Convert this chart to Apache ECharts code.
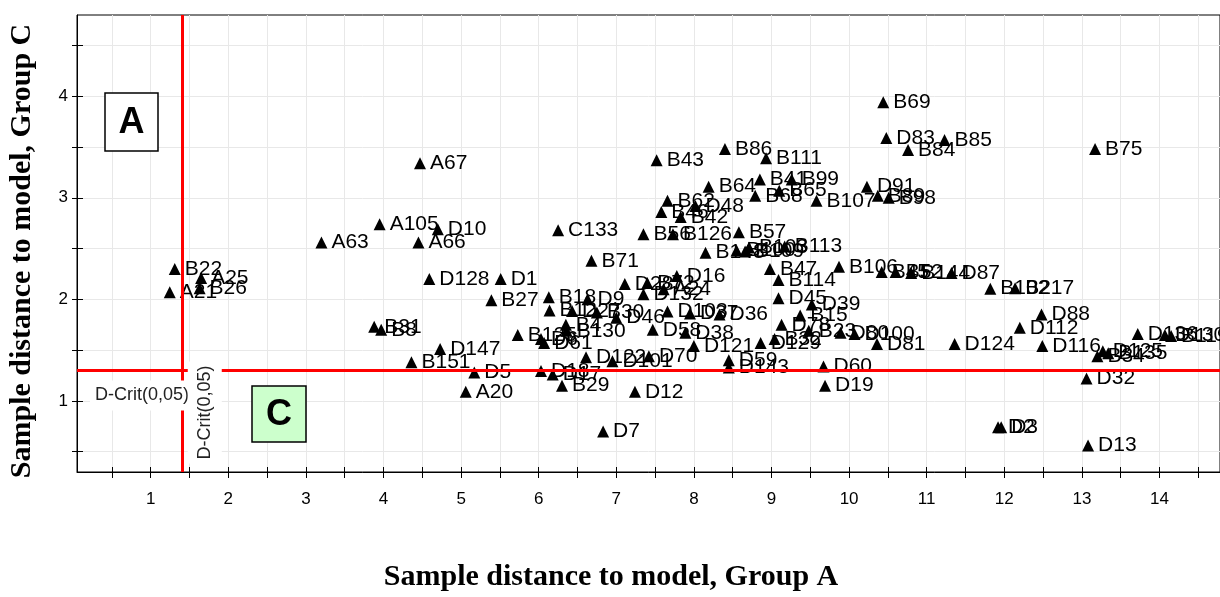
<!DOCTYPE html>
<html>
<head>
<meta charset="utf-8">
<script src="https://cdn.jsdelivr.net/npm/echarts@6/dist/echarts.min.js"></script>
<style>
html, body { margin: 0; padding: 0; background: #fff; }
#chart { width: 1220px; height: 597px; }
</style>
</head>
<body>
<div id="chart"></div>
<script>

// sample names and distances
var names = ['B69', 'D83', 'B85', 'B84', 'B75', 'B86', 'B43', 'A67', 'B111', 'B64',
    'B41', 'B99', 'B68', 'B65', 'B107', 'D91', 'B89', 'B98', 'B62', 'D48',
    'B46', 'B42', 'C133', 'A105', 'D10', 'A63', 'A66', 'B56', 'B126', 'B57',
    'B148', 'B100', 'B109', 'B103', 'B113', 'B71', 'D128', 'D1', 'B22', 'A25',
    'A21', 'B26', 'B47', 'B106', 'B114', 'B45', 'B52', 'B144', 'D87', 'B102',
    'B217', 'D88', 'D112', 'D124', 'D116', 'B34', 'D125', 'B135', 'D136', 'D130',
    'B119', 'B27', 'B31', 'B8', 'B18', 'D9', 'B12', 'D27', 'B30', 'D46',
    'B125', 'D6', 'D61', 'B4', 'B130', 'D147', 'B151', 'D5', 'A20', 'D18',
    'D17', 'B29', 'D12', 'D7', 'D122', 'D101', 'D70', 'D121', 'D59', 'D143',
    'D60', 'D19', 'D32', 'D2', 'D3', 'D13', 'D45', 'D39', 'B15', 'D103',
    'D37', 'D36', 'D58', 'D38', 'D78', 'B23', 'D80', 'D100', 'D81', 'D129',
    'B32', 'D28', 'B72', 'A24', 'D132', 'D16'];

var groupA = [10.44, 10.48, 11.23, 10.76, 13.17, 8.40, 7.52, 4.47, 8.93, 8.19,
    8.85, 9.26, 8.79, 9.10, 9.58, 10.23, 10.37, 10.51, 7.66, 8.02,
    7.58, 7.83, 6.25, 3.95, 4.70, 3.20, 4.45, 7.35, 7.73, 8.58,
    8.15, 8.55, 8.66, 8.71, 9.17, 6.68, 4.59, 5.51, 1.31, 1.65,
    1.245, 1.63, 8.98, 9.87, 9.09, 10.42, 10.60, 10.80, 11.32, 11.82,
    12.14, 12.48, 12.20, 11.36, 12.49, 13.20, 13.27, 13.34, 13.72, 14.07,
    14.15, 5.39, 3.88, 3.97, 6.13, 6.63, 6.14, 6.43, 6.75, 7.00,
    5.73, 6.03, 6.07, 6.35, 6.36, 4.73, 4.36, 5.17, 5.06, 6.03,
    6.18, 6.30, 7.24, 6.83, 6.61, 6.95, 7.42, 8.00, 8.45, 8.45,
    9.67, 9.69, 13.06, 11.92, 11.96, 13.08, 9.09, 9.52, 9.37, 7.66,
    7.95, 8.33, 7.47, 7.89, 9.13, 9.48, 9.89, 10.07, 10.36, 8.86,
    9.04, 7.11, 7.40, 7.61, 7.35, 7.78];

var groupC = [3.94, 3.59, 3.57, 3.47, 3.48, 3.48, 3.37, 3.34, 3.39, 3.11,
    3.18, 3.18, 3.02, 3.07, 2.97, 3.11, 3.02, 3.00, 2.97, 2.92,
    2.86, 2.81, 2.68, 2.74, 2.69, 2.56, 2.56, 2.64, 2.64, 2.66,
    2.46, 2.48, 2.47, 2.51, 2.52, 2.38, 2.20, 2.20, 2.30, 2.21,
    2.07, 2.11, 2.30, 2.32, 2.19, 2.27, 2.27, 2.26, 2.26, 2.105,
    2.11, 1.85, 1.72, 1.56, 1.54, 1.44, 1.49, 1.47, 1.66, 1.65,
    1.64, 1.99, 1.73, 1.70, 2.02, 2.00, 1.89, 1.885, 1.87, 1.82,
    1.65, 1.61, 1.57, 1.75, 1.69, 1.51, 1.38, 1.28, 1.09, 1.295,
    1.26, 1.15, 1.09, 0.70, 1.43, 1.39, 1.44, 1.54, 1.40, 1.33,
    1.34, 1.15, 1.22, 0.74, 0.74, 0.56, 2.01, 1.95, 1.84, 1.88,
    1.86, 1.85, 1.70, 1.67, 1.75, 1.69, 1.67, 1.66, 1.56, 1.57,
    1.61, 2.15, 2.16, 2.10, 2.05, 2.23];

var xTicks = [0.5, 1, 1.5, 2, 2.5, 3, 3.5, 4, 4.5, 5, 5.5, 6, 6.5, 7, 7.5,
    8, 8.5, 9, 9.5, 10, 10.5, 11, 11.5, 12, 12.5, 13, 13.5, 14, 14.5];
var xLabels = [1, 2, 3, 4, 5, 6, 7, 8, 9, 10, 11, 12, 13, 14];
var yTicks = [0.5, 1, 1.5, 2, 2.5, 3, 3.5, 4, 4.5];
var yLabels = [1, 2, 3, 4];

// critical distances
var critA = 1.4;
var critC = 1.3;

var chart = echarts.init(document.getElementById('chart'));

var points = [];
for (var i = 0; i < names.length; i++) {
    points.push([groupA[i], groupC[i], names[i]]);
}

var xMin = 0.05, xMax = 14.78, yMin = 0.3, yMax = 4.8;

var option = {
    animation: false,
    grid: [
        { left: 77, top: 15, right: -2, bottom: 125, show: true, borderColor: '#000', borderWidth: 1 },
        { left: 77, top: 15, right: -2, bottom: 125 }
    ],
    xAxis: [{
        type: 'value', gridIndex: 0, min: xMin, max: xMax,
        axisLine: { onZero: false, lineStyle: { color: '#000', width: 1 } },
        axisTick: { customValues: xTicks, length: 6, lineStyle: { color: '#000' } },
        axisLabel: { customValues: xLabels, margin: 19, fontSize: 17, color: '#000', fontFamily: 'Liberation Sans' },
        splitLine: { show: true, lineStyle: { color: '#e8e8e8', width: 1 } }
    }, {
        type: 'value', gridIndex: 1, min: xMin, max: xMax,
        axisLine: { show: false, onZero: false },
        axisTick: { customValues: xTicks, inside: true, length: 5, lineStyle: { color: '#000' } },
        axisLabel: { show: false },
        splitLine: { show: false }
    }],
    yAxis: [{
        type: 'value', gridIndex: 0, min: yMin, max: yMax,
        axisLine: { show: true, onZero: false, lineStyle: { color: '#000', width: 1 } },
        axisTick: { show: true, customValues: yTicks, length: 5, lineStyle: { color: '#000' } },
        axisLabel: { customValues: yLabels, margin: 9, fontSize: 17, color: '#000', fontFamily: 'Liberation Sans' },
        splitLine: { show: true, lineStyle: { color: '#e8e8e8', width: 1 } }
    }, {
        type: 'value', gridIndex: 1, min: yMin, max: yMax,
        axisLine: { show: false, onZero: false },
        axisTick: { show: true, customValues: yTicks, inside: true, length: 6, lineStyle: { color: '#000' } },
        axisLabel: { show: false },
        splitLine: { show: false }
    }],
    series: [{
        type: 'scatter',
        xAxisIndex: 0,
        yAxisIndex: 0,
        symbol: 'triangle',
        symbolSize: 12,
        itemStyle: { color: '#000', opacity: 1 },
        label: {
            show: true,
            position: 'right',
            distance: 4,
            formatter: function (p) { return p.data[2]; },
            fontSize: 21,
            fontFamily: 'Liberation Sans',
            color: '#000'
        },
        data: points,
        markLine: {
            silent: true,
            symbol: 'none',
            label: { show: false },
            lineStyle: { color: '#ff0000', width: 3, type: 'solid', opacity: 1 },
            data: [{ xAxis: critA }, { yAxis: critC }]
        },
        z: 3
    }]
};

chart.setOption(option);

var cp = chart.convertToPixel({ gridIndex: 0 }, [critA, critC]);

chart.setOption({
    graphic: [
        // box A
        { type: 'rect', z: 50, shape: { x: 105, y: 93, width: 53, height: 58 },
          style: { fill: '#fff', stroke: '#000', lineWidth: 1.5 } },
        { type: 'text', z: 51, x: 131.5, y: 123,
          style: { text: 'A', font: 'bold 36px "Liberation Sans"', fill: '#000', align: 'center', verticalAlign: 'middle' } },
        // box C
        { type: 'rect', z: 50, shape: { x: 252, y: 386, width: 54, height: 56 },
          style: { fill: '#ccffcc', stroke: '#000', lineWidth: 1.5 } },
        { type: 'text', z: 51, x: 279, y: 415,
          style: { text: 'C', font: 'bold 36px "Liberation Sans"', fill: '#000', align: 'center', verticalAlign: 'middle' } },
        // critical line labels
        { type: 'text', z: 60, x: 90, y: cp[1] + 25,
          style: { text: 'D-Crit(0,05)', font: '18px "Liberation Sans"', fill: '#222', align: 'left', verticalAlign: 'middle',
                   backgroundColor: '#fff', padding: [6, 4, 6, 5] } },
        { type: 'text', z: 60, x: cp[0] + 23, y: cp[1] + 42, rotation: Math.PI / 2,
          style: { text: 'D-Crit(0,05)', font: '18px "Liberation Sans"', fill: '#222', align: 'center', verticalAlign: 'middle',
                   backgroundColor: '#fff', padding: [8, 4, 8, 4] } },
        // axis titles
        { type: 'text', z: 60, x: 611, y: 577,
          style: { text: 'Sample distance to model, Group A', font: 'bold 30px "Liberation Serif"', fill: '#000', align: 'center', verticalAlign: 'middle' } },
        { type: 'text', z: 60, x: 22, y: 251, rotation: Math.PI / 2,
          style: { text: 'Sample distance to model, Group C', font: 'bold 30px "Liberation Serif"', fill: '#000', align: 'center', verticalAlign: 'middle' } }
    ]
});

</script>
</body>
</html>
